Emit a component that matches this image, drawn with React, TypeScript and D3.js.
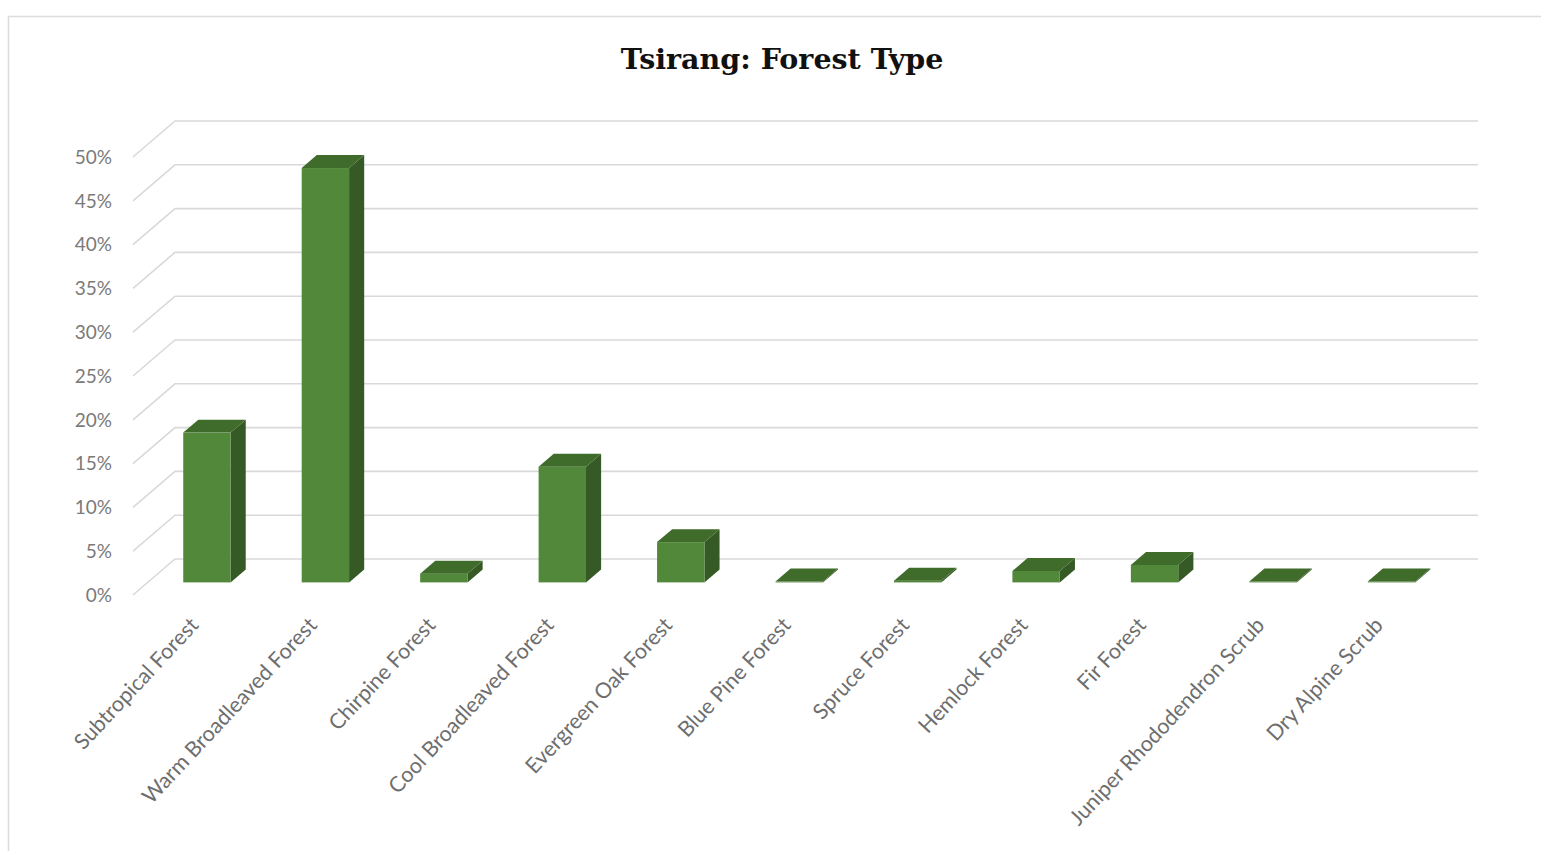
import { useEffect, useRef } from 'react';
import * as d3 from 'd3';

// forest types and their share of Tsirang's forest area (%)
const categories = [
  'Subtropical Forest',
  'Warm Broadleaved Forest',
  'Chirpine Forest',
  'Cool Broadleaved Forest',
  'Evergreen Oak Forest',
  'Blue Pine Forest',
  'Spruce Forest',
  'Hemlock Forest',
  'Fir Forest',
  'Juniper Rhododendron Scrub',
  'Dry Alpine Scrub',
];
const shares = [17.1, 47.3, 1.0, 13.2, 4.6, 0.1, 0.2, 1.3, 2.0, 0.1, 0.1];
const yTicks = [0, 5, 10, 15, 20, 25, 30, 35, 40, 45, 50];

const W = 1541;
const H = 851;

const App = () => {
  const ref = useRef<SVGSVGElement>(null);

  useEffect(() => {
    const svg = d3.select(ref.current);
    svg.selectAll('*').remove();

    // chart frame
    svg.append('rect')
      .attr('x', 8.5).attr('y', 16.5)
      .attr('width', W + 20).attr('height', H + 20)
      .attr('fill', '#fff').attr('stroke', '#dcdcdc').attr('stroke-width', 1.5);

    svg.append('text')
      .attr('x', 782).attr('y', 69)
      .attr('text-anchor', 'middle')
      .attr('font-family', '"DejaVu Serif", serif')
      .attr('font-weight', 'bold')
      .attr('font-size', 28.5)
      .attr('fill', '#111')
      .text('Tsirang: Forest Type');

    // 3d depth of the plot (oblique projection)
    const depthX = 42, depthY = -36;
    const f0 = 0.35, f1 = 0.71; // bar front/back depth fractions

    const x = d3.scaleBand<string>()
      .domain(categories)
      .range([133, 1436])
      .paddingInner(0.6)
      .paddingOuter(0.3);

    const y = d3.scaleLinear().domain([0, 50]).range([595, 157]);

    // gridlines: floor/side diagonal + back wall line
    const grid = svg.append('g').attr('stroke', '#d9d9d9').attr('stroke-width', 1.6).attr('fill', 'none');
    yTicks.forEach(t => {
      grid.append('path')
        .attr('d', `M${133},${y(t)} L${133 + depthX},${y(t) + depthY} L${1436 + depthX},${y(t) + depthY}`);
    });

    // y tick labels
    svg.append('g').selectAll('text')
      .data(yTicks)
      .join('text')
      .attr('x', 112)
      .attr('y', d => y(d))
      .attr('dy', '0.36em')
      .attr('text-anchor', 'end')
      .attr('font-family', 'Lato, sans-serif')
      .attr('font-size', 19)
      .attr('fill', '#7a7a7a')
      .text(d => `${d}%`);

    // bars
    const bars = svg.append('g');
    categories.forEach((c, i) => {
      const v = shares[i];
      const x0 = x(c)! + f0 * depthX;
      const x1 = x0 + x.bandwidth();
      const yb = y(0) + f0 * depthY;
      const yt = y(v) + f0 * depthY;
      const ddx = (f1 - f0) * depthX;
      const ddy = (f1 - f0) * depthY;
      // side
      bars.append('path')
        .attr('d', `M${x1},${yt} L${x1 + ddx},${yt + ddy} L${x1 + ddx},${yb + ddy} L${x1},${yb} Z`)
        .attr('fill', '#365a25');
      // front
      bars.append('rect')
        .attr('x', x0).attr('y', yt)
        .attr('width', x.bandwidth()).attr('height', yb - yt)
        .attr('fill', '#52883a');
      // top
      bars.append('path')
        .attr('d', `M${x0},${yt} L${x0 + ddx},${yt + ddy} L${x1 + ddx},${yt + ddy} L${x1},${yt} Z`)
        .attr('fill', '#3f6b2b');
    });

    // category labels rotated
    svg.append('g').selectAll('text')
      .data(categories)
      .join('text')
      .attr('transform', d => `translate(${x(d)! + x.bandwidth() / 2 + 2},${621}) rotate(-47)`)
      .attr('text-anchor', 'end')
      .attr('dy', '0.35em')
      .attr('font-family', 'Lato, sans-serif')
      .attr('font-size', 21.5)
      .attr('fill', '#6e6e6e')
      .text(d => d);
  }, []);

  return (
    <svg ref={ref} width={W} height={H}
      style={{ position: 'absolute', left: 0, top: 0, background: '#fff' }} />
  );
};

export default App;
